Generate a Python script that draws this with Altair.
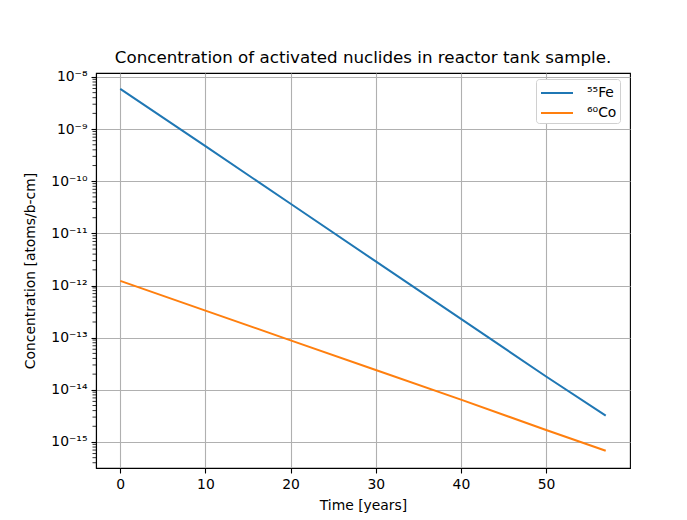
import altair as alt
import pandas as pd

years = [0, 10, 20, 30, 40, 50, 57]
fe55 = [5.9e-9, 4.7e-10, 3.7e-11, 2.9e-12, 2.3e-13, 1.8e-14, 3.2e-15]
co60 = [1.23e-12, 3.3e-13, 8.9e-14, 2.4e-14, 6.5e-15, 1.7e-15, 6.8e-16]
series_names = ["\u2075\u2075Fe", "\u2076\u2070Co"]
colors = ["#1f77b4", "#ff7f0e"]
x_ticks = [0, 10, 20, 30, 40, 50]
y_major = [10.0 ** e for e in range(-15, -7)]
y_minor = [k * 10.0 ** e for e in range(-16, -7) for k in range(2, 10)
           if 3.17e-16 <= k * 10.0 ** e <= 1.19e-8]

rows = []
for t, v in zip(years, fe55):
    rows.append({"t": t, "c": v, "series": series_names[0]})
for t, v in zip(years, co60):
    rows.append({"t": t, "c": v, "series": series_names[1]})
df = pd.DataFrame(rows)
minor_df = pd.DataFrame({"m": y_minor})

sup = {"0": "\u2070", "1": "\u00b9", "2": "\u00b2", "3": "\u00b3", "4": "\u2074",
       "5": "\u2075", "6": "\u2076", "7": "\u2077", "8": "\u2078", "9": "\u2079", "-": "\u207b"}
lab = {}
for e in range(-15, -7):
    lab[str(e)] = "10" + "".join(sup[ch] for ch in str(e))
label_expr = "{" + ",".join("'%s':'%s'" % (k, v) for k, v in lab.items()) + "}[''+round(log(datum.value)/LN10)]"

xscale = alt.Scale(domain=[-2.85, 59.85], nice=False, zero=False)
yscale = alt.Scale(type="log", domain=[3.17e-16, 1.19e-8], nice=False)

lines = alt.Chart(df).mark_line(strokeWidth=2, clip=True).encode(
    x=alt.X("t:Q", scale=xscale,
            axis=alt.Axis(values=x_ticks, title="Time [years]", grid=True, format="d",
                          titlePadding=8)),
    y=alt.Y("c:Q", scale=yscale,
            axis=alt.Axis(values=y_major, labelExpr=label_expr, grid=True,
                          title="Concentration [atoms/b-cm]", orient="left",
                          titlePadding=13)),
    color=alt.Color("series:N", scale=alt.Scale(domain=series_names, range=colors),
                    legend=alt.Legend(title=None, orient="none", legendX=440, legendY=6,
                                      symbolType="M-1.6,0L1.6,0", symbolSize=400,
                                      symbolStrokeWidth=2, symbolOffset=7,
                                      labelFontSize=13.9, labelFont="DejaVu Sans",
                                      labelColor="black",
                                      fillColor="white", strokeColor="#d0d0d0",
                                      cornerRadius=3, padding=3, rowPadding=2,
                                      labelOffset=19)),
    order="t:Q",
)

minor = alt.Chart(minor_df).mark_rule(color="black", strokeWidth=0.8, clip=False).encode(
    y=alt.Y("m:Q", scale=yscale),
    x=alt.value(-3.5),
    x2=alt.value(0),
)

chart = alt.layer(lines, minor).properties(
    width=534, height=395,
    autosize=alt.AutoSizeParams(type="none"),
    padding={"left": 88, "top": 65, "right": 40, "bottom": 48},
    background="white",
    title=alt.TitleParams("Concentration of activated nuclides in reactor tank sample.",
                          font="DejaVu Sans", fontSize=16.7, fontWeight="normal",
                          anchor="middle", offset=3, color="black"),
).configure_view(stroke="black", strokeWidth=1.1).configure_axis(
    labelFont="DejaVu Sans", labelFontSize=13.9, labelColor="black",
    titleFont="DejaVu Sans", titleFontSize=13.9, titleFontWeight="normal", titleColor="black",
    gridColor="#b0b0b0", gridWidth=1.1, tickColor="black", tickWidth=1.1,
    domainColor="black", domainWidth=1.1, tickSize=5, labelPadding=4,
)

chart.save("out.html", embed_options={"renderer": "svg", "actions": False})
